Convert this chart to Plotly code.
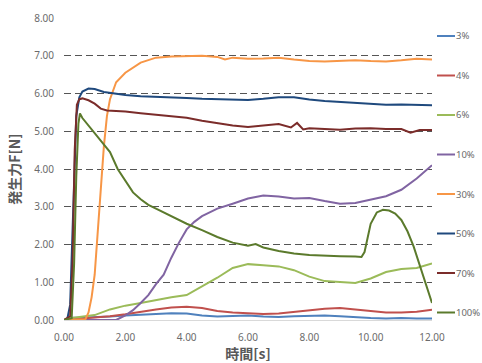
import plotly.graph_objects as go

# ---- data ----
series_names = ["3%", "4%", "6%", "10%", "30%", "50%", "70%", "100%"]
series_colors = ["#4F81BD", "#C0504D", "#9BBB59", "#8064A2", "#F79646", "#1F497D", "#7B2C2A", "#5B7A2C"]

t_3 = [0, 0.1, 0.2, 0.3, 0.5, 1.0, 1.5, 2.0, 2.5, 3.0, 3.5, 4.0, 4.5, 5.0, 5.5, 6.0, 6.5, 7.0, 7.5, 8.0, 8.5, 9.0, 9.5, 10.0, 10.5, 11.0, 11.5, 12.0]
v_3 = [0, 0.02, 0.06, 0.06, 0.06, 0.07, 0.09, 0.12, 0.14, 0.16, 0.18, 0.17, 0.12, 0.09, 0.1, 0.12, 0.09, 0.08, 0.1, 0.11, 0.12, 0.1, 0.07, 0.05, 0.04, 0.05, 0.04, 0.04]

t_4 = [0, 0.5, 1.0, 1.5, 2.0, 2.5, 3.0, 3.5, 4.0, 4.5, 5.0, 5.5, 6.0, 6.5, 7.0, 7.5, 8.0, 8.5, 9.0, 9.5, 10.0, 10.5, 11.0, 11.5, 12.0]
v_4 = [0, 0.03, 0.06, 0.1, 0.15, 0.22, 0.28, 0.33, 0.35, 0.32, 0.24, 0.2, 0.17, 0.16, 0.17, 0.22, 0.27, 0.3, 0.32, 0.28, 0.24, 0.2, 0.2, 0.22, 0.27]

t_6 = [0, 0.2, 0.5, 1.0, 1.5, 2.0, 2.5, 3.0, 3.5, 4.0, 4.5, 5.0, 5.5, 6.0, 6.5, 7.0, 7.5, 8.0, 8.5, 9.0, 9.5, 10.0, 10.5, 11.0, 11.5, 12.0]
v_6 = [0, 0.05, 0.08, 0.13, 0.28, 0.38, 0.45, 0.53, 0.6, 0.66, 0.88, 1.12, 1.38, 1.48, 1.45, 1.42, 1.32, 1.15, 1.03, 1.0, 0.98, 1.1, 1.27, 1.35, 1.38, 1.5]

t_10 = [0, 1.7, 2.0, 2.25, 2.5, 2.75, 3.0, 3.25, 3.5, 3.75, 4.0, 4.25, 4.5, 5.0, 5.5, 6.0, 6.5, 7.0, 7.5, 8.0, 8.5, 9.0, 9.5, 10.0, 10.5, 11.0, 11.5, 12.0]
v_10 = [0, 0, 0.12, 0.26, 0.45, 0.66, 0.95, 1.2, 1.65, 2.05, 2.4, 2.6, 2.75, 2.95, 3.08, 3.22, 3.3, 3.27, 3.22, 3.23, 3.15, 3.08, 3.1, 3.18, 3.28, 3.45, 3.75, 4.1]

t_30 = [0, 0.7, 0.8, 0.9, 1.0, 1.1, 1.2, 1.3, 1.4, 1.5, 1.7, 2.0, 2.5, 3.0, 3.5, 4.0, 4.5, 5.0, 5.25, 5.5, 6.0, 6.5, 7.0, 7.5, 8.0, 8.5, 9.0, 9.5, 10.0, 10.5, 11.0, 11.5, 12.0]
v_30 = [0, 0.02, 0.2, 0.6, 1.2, 2.3, 3.4, 4.6, 5.4, 5.85, 6.3, 6.55, 6.82, 6.95, 6.98, 6.98, 7.0, 6.97, 6.9, 6.95, 6.92, 6.93, 6.95, 6.9, 6.86, 6.85, 6.86, 6.88, 6.86, 6.85, 6.88, 6.92, 6.9]

t_50 = [0, 0.1, 0.2, 0.3, 0.4, 0.5, 0.6, 0.8, 1.0, 1.3, 1.6, 2.0, 2.5, 3.0, 3.5, 4.0, 4.5, 5.0, 5.5, 6.0, 6.5, 7.0, 7.5, 8.0, 8.5, 9.0, 9.5, 10.0, 10.5, 11.0, 11.5, 12.0]
v_50 = [0, 0.0, 0.4, 3.2, 5.4, 5.9, 6.05, 6.13, 6.12, 6.04, 6.0, 5.96, 5.93, 5.92, 5.9, 5.88, 5.86, 5.85, 5.84, 5.83, 5.86, 5.9, 5.9, 5.84, 5.8, 5.77, 5.75, 5.72, 5.7, 5.71, 5.7, 5.69]

t_70 = [0, 0.2, 0.28, 0.35, 0.42, 0.5, 0.6, 0.8, 1.0, 1.2, 1.4, 1.7, 2.0, 2.5, 3.0, 3.5, 4.0, 4.5, 5.0, 5.5, 6.0, 6.5, 7.0, 7.4, 7.6, 7.8, 8.0, 8.5, 9.0, 9.5, 10.0, 10.5, 11.0, 11.3, 11.6, 12.0]
v_70 = [0, 0.1, 1.5, 4.5, 5.7, 5.85, 5.87, 5.82, 5.73, 5.6, 5.55, 5.54, 5.52, 5.48, 5.44, 5.4, 5.36, 5.28, 5.22, 5.15, 5.11, 5.15, 5.19, 5.1, 5.22, 5.05, 5.08, 5.06, 5.04, 5.07, 5.08, 5.06, 5.06, 4.96, 5.03, 5.03]

t_100 = [0, 0.25, 0.33, 0.4, 0.47, 0.52, 0.6, 0.8, 1.0, 1.25, 1.5, 1.75, 2.0, 2.25, 2.5, 2.75, 3.0, 3.5, 4.0, 4.5, 5.0, 5.5, 6.0, 6.25, 6.5, 7.0, 7.5, 8.0, 8.5, 9.0, 9.5, 9.7, 9.8, 9.9, 10.0, 10.2, 10.4, 10.6, 10.8, 11.0, 11.2, 11.4, 11.6, 11.8, 12.0]
v_100 = [0, 0.05, 1.5, 3.8, 5.2, 5.47, 5.35, 5.15, 4.95, 4.72, 4.45, 4.0, 3.68, 3.38, 3.2, 3.05, 2.95, 2.75, 2.55, 2.38, 2.2, 2.05, 1.97, 2.01, 1.92, 1.83, 1.76, 1.72, 1.7, 1.69, 1.68, 1.67, 1.8, 2.15, 2.55, 2.85, 2.92, 2.9, 2.82, 2.65, 2.35, 1.95, 1.45, 0.95, 0.45]

x_ticks = [0, 2, 4, 6, 8, 10, 12]
y_ticks = [0, 1, 2, 3, 4, 5, 6, 7, 8]

series_t = [t_3, t_4, t_6, t_10, t_30, t_50, t_70, t_100]
series_v = [v_3, v_4, v_6, v_10, v_30, v_50, v_70, v_100]

fig = go.Figure()
for name, color, t, v in zip(series_names, series_colors, series_t, series_v):
    fig.add_trace(go.Scatter(x=t, y=v, mode="lines", name=name, showlegend=False,
                             line=dict(color=color, width=2)))

gray = "#595959"
legend_gray = "#6b6b6b"
tick_font = dict(size=10, color=legend_gray, family="Noto Sans")

# figure geometry (body margin removed by post_script, so figure = window)
W, H = 482, 363
ML, MR, MT, MB = 64, 50, 18, 43
PW, PH = W - ML - MR, H - MT - MB

# legend drawn at the right side (line sample + label), one entry per series
leg_line_x0, leg_line_x1, leg_text_x = 437, 455, 455   # figure px
leg_y0, leg_dy = 36, 39.5                               # figure px
shapes, annotations = [], []
for i, (name, color) in enumerate(zip(series_names, series_colors)):
    yy = 1 - (leg_y0 + i * leg_dy - MT) / PH
    shapes.append(dict(type="line", xref="paper", yref="paper",
                       x0=(leg_line_x0 - ML) / PW, x1=(leg_line_x1 - ML) / PW, y0=yy, y1=yy,
                       line=dict(color=color, width=2)))
    annotations.append(dict(xref="paper", yref="paper", x=(leg_text_x - ML) / PW, y=yy,
                            xanchor="left", yanchor="middle", text=name, showarrow=False,
                            borderpad=0,
                            font=dict(size=9.5, color=legend_gray, family="Noto Sans")))

fig.update_layout(
    width=W, height=H,
    margin=dict(l=ML, r=MR, t=MT, b=MB, autoexpand=False),
    paper_bgcolor="white", plot_bgcolor="white",
    font=dict(family="Noto Sans CJK JP", size=10, color=gray),
    showlegend=False,
    shapes=shapes, annotations=annotations,
)
fig.update_xaxes(
    range=[0, 12], tickvals=x_ticks, tickformat=".2f",
    showgrid=False, zeroline=False, showline=False, ticks="",
    automargin=False, ticklabelstandoff=10,
    tickfont=tick_font,
    title=dict(text="<b>時間[s]</b>", font=dict(size=14, color=gray, family="Noto Sans CJK JP"), standoff=3),
)
fig.update_yaxes(
    range=[0, 8], tickvals=y_ticks, tickformat=".2f",
    showgrid=True, gridcolor="#555555", griddash="7px,4px", gridwidth=1,
    zeroline=True, zerolinecolor="#D9D9D9", zerolinewidth=1,
    showline=False, ticks="", automargin=False, ticklabelstandoff=9,
    tickfont=tick_font,
    title=dict(text="<b>発生力F[N]</b>", font=dict(size=14, color=gray, family="Noto Sans CJK JP"), standoff=10),
)

fig.write_html("out.html",
               config={"displayModeBar": False},
               post_script="document.body.style.margin='0';document.body.style.overflow='hidden';")
